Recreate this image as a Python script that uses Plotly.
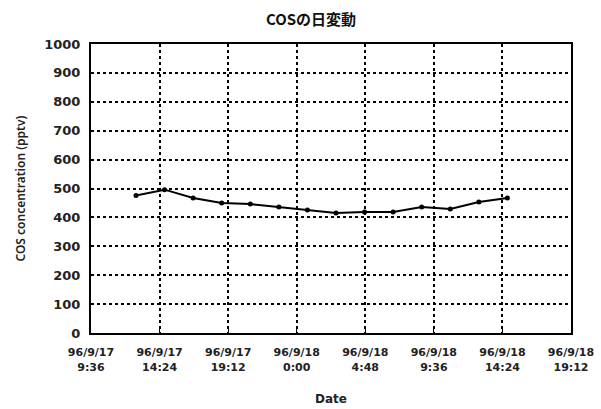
import plotly.graph_objects as go

# Data
times = [
    "1996-09-17 12:45", "1996-09-17 14:45", "1996-09-17 16:45", "1996-09-17 18:45",
    "1996-09-17 20:45", "1996-09-17 22:45", "1996-09-18 00:45", "1996-09-18 02:45",
    "1996-09-18 04:45", "1996-09-18 06:45", "1996-09-18 08:45", "1996-09-18 10:45",
    "1996-09-18 12:45", "1996-09-18 14:45",
]
cos_pptv = [476, 496, 467, 450, 446, 436, 426, 415, 419, 419, 436, 429, 453, 467]

tick_times = [
    "1996-09-17 09:36", "1996-09-17 14:24", "1996-09-17 19:12", "1996-09-18 00:00",
    "1996-09-18 04:48", "1996-09-18 09:36", "1996-09-18 14:24", "1996-09-18 19:12",
]
tick_labels = [
    "96/9/17<br>9:36", "96/9/17<br>14:24", "96/9/17<br>19:12", "96/9/18<br>0:00",
    "96/9/18<br>4:48", "96/9/18<br>9:36", "96/9/18<br>14:24", "96/9/18<br>19:12",
]
y_ticks = [0, 100, 200, 300, 400, 500, 600, 700, 800, 900, 1000]

title_text = "COSの日変動"
x_title = "Date"
y_title = "COS concentration (pptv)"

fig = go.Figure()
fig.add_trace(go.Scatter(
    x=times, y=cos_pptv, mode="lines+markers",
    line=dict(color="black", width=2),
    marker=dict(color="black", size=5),
    showlegend=False,
))

fig.update_layout(
    width=601, height=409,
    margin=dict(l=91, r=30, t=44, b=76, autoexpand=False),
    paper_bgcolor="white", plot_bgcolor="white",
    title=dict(text=title_text, x=311 / 601, xanchor="center",
               yref="container", y=1 - 20 / 409, yanchor="middle",
               font=dict(family="Noto Sans CJK JP", size=15, color="#111", weight="bold")),
    annotations=[
        dict(text=x_title, xref="paper", yref="paper", x=0.5, y=-66 / 289,
             xanchor="center", yanchor="middle", showarrow=False,
             font=dict(family="DejaVu Sans", size=12, color="#222", weight="bold")),
        dict(text=y_title, xref="paper", yref="paper", x=-71 / 480, y=0.5,
             xanchor="center", yanchor="middle", showarrow=False, textangle=-90,
             font=dict(family="Noto Sans", size=12, color="#222", weight=600)),
    ],
)
fig.update_xaxes(
    type="date", automargin=False,
    range=[tick_times[0], tick_times[-1]],
    tickmode="array", tickvals=tick_times, ticktext=tick_labels,
    tickfont=dict(family="DejaVu Sans", size=11, color="#222", weight="bold"),
    ticklabelstandoff=8,
    showgrid=True, gridcolor="black", griddash="dot", gridwidth=1.5,
    showline=True, linecolor="black", linewidth=2, mirror=True,
    ticks="inside", ticklen=4, tickcolor="black",
    zeroline=False,
)
fig.update_yaxes(
    range=[0, 1000], automargin=False,
    tickmode="array", tickvals=y_ticks,
    tickfont=dict(family="DejaVu Sans", size=13, color="#222", weight="bold"),
    ticklabelstandoff=6,
    showgrid=True, gridcolor="black", griddash="dot", gridwidth=1.5,
    showline=True, linecolor="black", linewidth=2, mirror=True,
    ticks="inside", ticklen=3, tickcolor="black",
    zeroline=False,
)

fig.write_html(
    "out.html",
    config={"displayModeBar": False},
    post_script="document.body.style.margin='0';document.body.style.overflow='hidden';",
)
